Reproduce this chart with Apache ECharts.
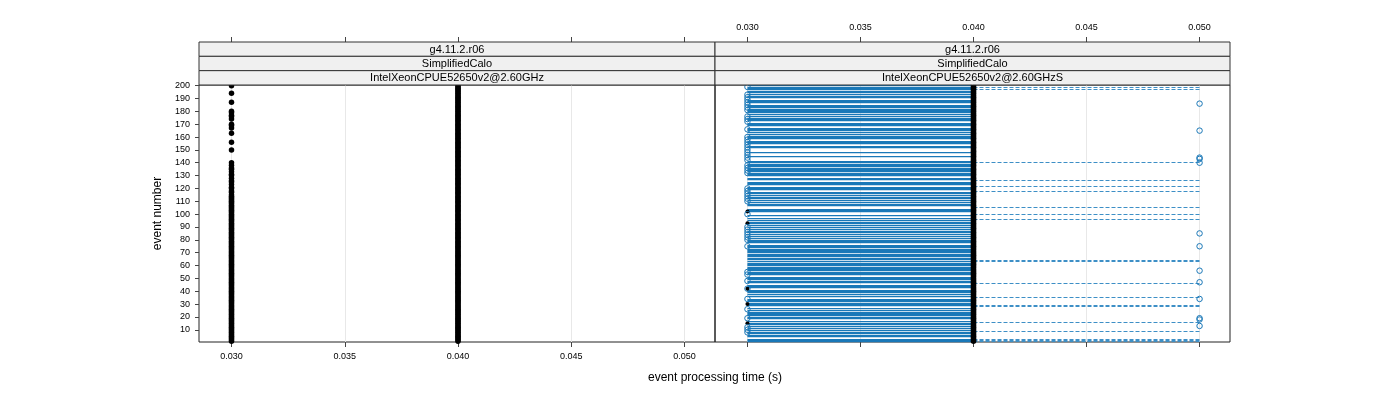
<!DOCTYPE html>
<html>
<head>
<meta charset="utf-8">
<script src="https://cdn.jsdelivr.net/npm/echarts@6/dist/echarts.min.js"></script>
<style>
html,body{margin:0;padding:0;background:#fff;}
#chart{width:1400px;height:400px;}
</style>
</head>
<body>
<div id="chart"></div>
<script>
// ---- tick labels ----
const xTicks = [0.030, 0.035, 0.040, 0.045, 0.050];
const xTickLabels = ['0.030', '0.035', '0.040', '0.045', '0.050'];
const yTicks = [10, 20, 30, 40, 50, 60, 70, 80, 90, 100, 110, 120, 130, 140, 150, 160, 170, 180, 190, 200];

// ---- strip labels ----
const stripLeft = ['g4.11.2.r06', 'SimplifiedCalo', 'IntelXeonCPUE52650v2@2.60GHz'];
const stripRight = ['g4.11.2.r06', 'SimplifiedCalo', 'IntelXeonCPUE52650v2@2.60GHzS'];

// ---- time levels (s) ----
const tLow = 0.030, tMid = 0.040, tHigh = 0.050;

// ---- left panel: events with each processing time ----
const leftEvents040 = [1,2,3,4,5,6,7,8,9,10,11,12,13,14,15,16,17,18,19,20,21,22,23,24,25,26,27,28,29,30,31,32,33,34,35,36,37,38,39,40,41,42,43,44,45,46,47,48,49,50,51,52,53,54,55,56,57,58,59,60,61,62,63,64,65,66,67,68,69,70,71,72,73,74,75,76,77,78,79,80,81,82,83,84,85,86,87,88,89,90,91,92,93,94,95,96,97,98,99,100,101,102,103,104,105,106,107,108,109,110,111,112,113,114,115,116,117,118,119,120,121,122,123,124,125,126,127,128,129,130,131,132,133,134,135,136,137,138,139,140,141,142,143,144,145,146,147,148,149,150,151,152,153,154,155,156,157,158,159,160,161,162,163,164,165,166,167,168,169,170,171,172,173,174,175,176,177,178,179,180,181,182,183,184,185,186,187,188,189,190,191,192,193,194,195,196,197,198,199,200];
const leftEvents030 = [1,2,3,4,5,6,7,8,9,10,11,12,13,14,15,16,17,18,19,20,21,22,23,24,25,26,27,28,29,30,31,32,33,34,35,36,37,38,39,40,41,42,43,44,45,46,47,48,49,50,51,52,53,54,55,56,57,58,59,60,61,62,63,64,65,66,67,68,69,70,71,72,73,74,75,76,77,78,79,80,81,82,83,84,85,86,87,88,89,90,91,92,93,94,95,96,97,98,99,100,101,102,103,104,105,106,107,108,109,110,111,112,113,114,115,117,118,120,121,123,125,126,128,130,131,133,135,136,138,140,150,156,163,167,169,170,174,176,177,179,180,187,194,200];

// ---- right panel ----
const rightEvents040 = leftEvents040;             // black reference points at 0.040
const rightBlack030 = [15, 30, 42, 93, 102];        // black reference points at 0.030
const solidEvents = [1,2,3,5,6,7,8,10,11,13,14,15,17,19,20,21,22,23,24,25,27,29,30,31,32,33,34,36,38,39,40,41,43,44,45,47,48,49,50,51,53,54,55,56,57,58,59,60,61,62,63,65,66,67,68,69,70,71,72,73,74,75,76,78,79,80,81,83,84,86,87,88,90,91,93,94,95,97,99,102,103,104,107,108,109,111,112,113,115,116,117,119,120,121,123,124,125,127,128,130,131,132,133,134,135,136,137,138,139,140,141,145,148,152,153,155,156,157,159,160,161,162,164,165,166,167,169,170,171,173,174,175,176,178,179,180,181,182,183,184,185,187,188,189,191,192,193,195,196,197,198,199,200];
const dashedEvents = [1, 2, 3, 9, 16, 28, 29, 35, 46, 63, 64, 96, 100, 105, 118, 122, 126, 140, 197, 199];
const circles030 = [8, 10, 12, 19, 26, 34, 42, 48, 53, 55, 75, 80, 82, 84, 86, 88, 90, 100, 110, 112, 114, 116, 118, 120, 132, 134, 136, 138, 142, 144, 146, 148, 150, 152, 154, 156, 158, 160, 166, 172, 174, 176, 181, 183, 185, 187, 189, 191, 193, 199];
const circles050 = [13, 18, 19, 34, 47, 56, 75, 85, 140, 143, 144, 165, 186];

// ---- styles ----
const BLUE = '#1a78b8';
const FONT = "'Liberation Sans', Arial, Helvetica, sans-serif";
const X_MIN = 0.028565, X_MAX = 0.051346;
const Y_MIN = 0.5, Y_MAX = 200.5;
const G = [{left: 199, top: 85, width: 516, height: 257}, {left: 715, top: 85, width: 515, height: 257}];
const STRIP_TOP = 42, STRIP_H = (85 - 42) / 3;

function xAxisDef(gi, pos, labels, offset) {
  return {
    gridIndex: gi, type: 'value', min: X_MIN, max: X_MAX, position: pos, offset: offset,
    axisLine: {show: false},
    axisTick: {show: true, length: 5, customValues: xTicks, lineStyle: {color: '#444', width: 1}},
    axisLabel: {show: labels, customValues: xTicks, margin: 10, fontSize: 9, color: '#000', fontFamily: FONT,
      formatter: v => { const i = xTicks.findIndex(t => Math.abs(t - v) < 1e-9); return i >= 0 ? xTickLabels[i] : ''; }},
    splitLine: {show: false}
  };
}
function yAxisDef(gi, show) {
  return {
    gridIndex: gi, type: 'value', min: Y_MIN, max: Y_MAX, position: 'left',
    name: show ? 'event number' : '', nameLocation: 'middle', nameGap: 35, nameRotate: 90,
    nameTextStyle: {fontSize: 12, color: '#000', fontFamily: FONT},
    axisLine: {show: false},
    axisTick: {show: show, length: 4, customValues: yTicks, lineStyle: {color: '#444'}},
    axisLabel: {show: show, customValues: yTicks, margin: 9, fontSize: 9, color: '#000', fontFamily: FONT},
    splitLine: {show: false}
  };
}

function pts(events, t) { return events.map(e => [t, e]); }
function segs(events, t0, t1) { return events.map(e => ({coords: [[t0, e], [t1, e]]})); }
function gridLines(xi, yi) {
  return {type: 'lines', coordinateSystem: 'cartesian2d', xAxisIndex: xi, yAxisIndex: yi, silent: true, z: 1,
    lineStyle: {color: '#e8e8e8', width: 1, opacity: 1},
    data: xTicks.map(v => ({coords: [[v, Y_MIN], [v, Y_MAX]]}))};
}

const graphics = [];
[stripLeft, stripRight].forEach((labels, gi) => {
  labels.forEach((txt, k) => {
    const y = STRIP_TOP + k * STRIP_H;
    graphics.push({type: 'rect', z: 10, shape: {x: G[gi].left, y: y, width: G[gi].width, height: STRIP_H},
      style: {fill: '#f0f0f0', stroke: '#333', lineWidth: 1}});
    graphics.push({type: 'text', z: 11, x: G[gi].left + G[gi].width / 2, y: y + STRIP_H / 2 + 0.5,
      style: {text: txt, fill: '#000', font: '11px ' + FONT, align: 'center', verticalAlign: 'middle'}});
  });
});
graphics.push({type: 'text', z: 11, x: 715, y: 378,
  style: {text: 'event processing time (s)', fill: '#000', font: '12px ' + FONT, align: 'center', verticalAlign: 'middle'}});

const chart = echarts.init(document.getElementById('chart'), null, {renderer: 'canvas'});
chart.setOption({
  animation: false,
  backgroundColor: '#fff',
  grid: G.map(g => Object.assign({show: true, borderColor: '#222', borderWidth: 1, backgroundColor: 'transparent'}, g)),
  xAxis: [
    xAxisDef(0, 'bottom', true, 0),
    xAxisDef(1, 'bottom', false, 0),
    xAxisDef(0, 'top', false, 43),
    xAxisDef(1, 'top', true, 43)
  ],
  yAxis: [yAxisDef(0, true), yAxisDef(1, false)],
  graphic: graphics,
  series: [
    gridLines(0, 0),
    gridLines(1, 1),
    {type: 'scatter', xAxisIndex: 0, yAxisIndex: 0, z: 3, symbol: 'circle', symbolSize: 5.5, silent: true,
      itemStyle: {color: '#000', opacity: 1}, data: pts(leftEvents030, tLow)},
    {type: 'scatter', xAxisIndex: 0, yAxisIndex: 0, z: 3, symbol: 'circle', symbolSize: 5.5, silent: true,
      itemStyle: {color: '#000', opacity: 1}, data: pts(leftEvents040, tMid)},
    {type: 'lines', coordinateSystem: 'cartesian2d', xAxisIndex: 1, yAxisIndex: 1, z: 2, silent: true,
      lineStyle: {color: BLUE, width: 1.25, opacity: 1, type: 'solid'}, data: segs(solidEvents, tLow, tMid)},
    {type: 'lines', coordinateSystem: 'cartesian2d', xAxisIndex: 1, yAxisIndex: 1, z: 2, silent: true,
      lineStyle: {color: '#3d8fc6', width: 1, opacity: 1, type: [4, 2]}, data: segs(dashedEvents, tMid, tHigh)},
    {type: 'scatter', xAxisIndex: 1, yAxisIndex: 1, z: 3, symbol: 'circle', symbolSize: 5.5, silent: true,
      itemStyle: {color: '#000', opacity: 1}, data: pts(rightEvents040, tMid)},
    {type: 'scatter', xAxisIndex: 1, yAxisIndex: 1, z: 3, symbol: 'circle', symbolSize: 4, silent: true,
      itemStyle: {color: '#000', opacity: 1}, data: pts(rightBlack030, tLow)},
    {type: 'scatter', xAxisIndex: 1, yAxisIndex: 1, z: 4, symbol: 'circle', symbolSize: 5.5, silent: true,
      itemStyle: {color: 'rgba(0,0,0,0)', borderColor: BLUE, borderWidth: 1, opacity: 1}, data: pts(circles030, tLow)},
    {type: 'scatter', xAxisIndex: 1, yAxisIndex: 1, z: 4, symbol: 'circle', symbolSize: 5.5, silent: true,
      itemStyle: {color: 'rgba(0,0,0,0)', borderColor: BLUE, borderWidth: 1, opacity: 1}, data: pts(circles050, tHigh)}
  ]
});
</script>
</body>
</html>
